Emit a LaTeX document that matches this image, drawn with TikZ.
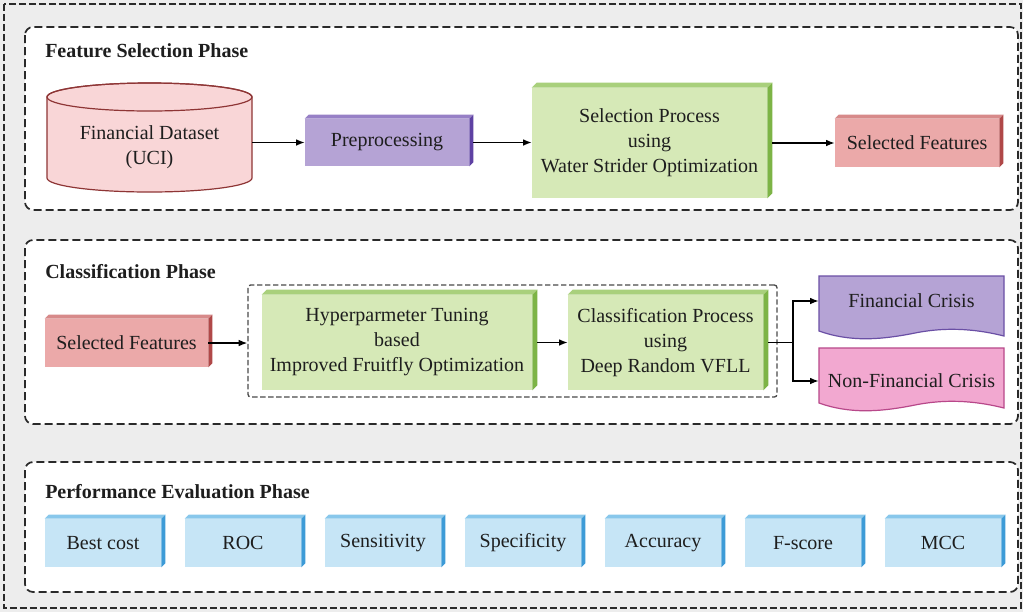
\documentclass[tikz,border=0pt]{standalone}
\usepackage{fontspec}
\setmainfont{Liberation Serif}
\usetikzlibrary{arrows.meta}
\definecolor{bggray}{HTML}{EDEDED}
\definecolor{dashcol}{HTML}{2A2A2A}
\definecolor{txt}{HTML}{1E1E1E}
\definecolor{cylfill}{HTML}{F9D6D7}
\definecolor{cylline}{HTML}{8E3535}
\definecolor{purF}{HTML}{B5A3D5}
\definecolor{purT}{HTML}{9780C6}
\definecolor{purS}{HTML}{5E41A3}
\definecolor{grnF}{HTML}{D6E9B7}
\definecolor{grnT}{HTML}{A9D07C}
\definecolor{grnS}{HTML}{7DB446}
\definecolor{redF}{HTML}{EBA9A9}
\definecolor{redT}{HTML}{D78A8A}
\definecolor{redS}{HTML}{B04848}
\definecolor{bluF}{HTML}{C6E5F6}
\definecolor{bluT}{HTML}{88C7EB}
\definecolor{bluS}{HTML}{3D9BD7}
\definecolor{fcLine}{HTML}{6A4FA5}
\definecolor{nfcF}{HTML}{F2A8D0}
\definecolor{nfcLine}{HTML}{B8488A}
\newcommand\bevel[4]{%
  \fill[#2] (#1.north west) -- ([shift={(#4,-#4)}]#1.north west) -- ([shift={(#4,-#4)}]#1.north east) -- (#1.north east) -- cycle;
  \fill[#3] (#1.north east) -- ([shift={(#4,-#4)}]#1.north east) -- ([shift={(#4,-#4)}]#1.south east) -- (#1.south east) -- cycle;
}
\tikzset{
  lbl/.style={font=\fontsize{15}{18.75}\selectfont, text=txt, align=center, inner sep=0pt},
  ttl/.style={font=\bfseries\fontsize{15}{18.75}\selectfont, text=txt, anchor=base west, inner sep=0pt},
  fbox/.style n args={3}{lbl, fill=#1, minimum width={#2*0.75pt}, minimum height={#3*0.75pt}},
  tbox/.style n args={2}{lbl, minimum width={#1*0.75pt}, minimum height={#2*0.75pt}},
  panel/.style={draw=dashcol, fill=white, line width=1.3pt, dash pattern=on 6pt off 3pt, rounded corners=6pt},
  outer/.style={draw=dashcol, fill=bggray, line width=1.3pt, dash pattern=on 5pt off 2.5pt},
  grpbox/.style={draw=dashcol!85, line width=1pt, dash pattern=on 4pt off 2pt, rounded corners=2pt},
  conn/.style={draw=black, line width=1pt},
  arr/.style={conn, -{Latex[length=6.5pt,width=5pt]}},
}
\begin{document}
\begin{tikzpicture}[x=0.75pt,y=-0.75pt]
\useasboundingbox (0,0) rectangle (1023,612);
\fill[bggray] (0,0) rectangle (1023,612);
\path[outer] (4,4) rectangle (1021,608);
% panels
\path[panel] (25,27) rectangle (1018,210);
\path[panel] (25,240) rectangle (1018,424);
\path[panel] (25,462) rectangle (1018,592);
\node[ttl] (t1) at (45,57) {Feature Selection Phase};
\node[ttl] (t2) at (45,278) {Classification Phase};
\node[ttl] (t3) at (45,498) {Performance Evaluation Phase};

% --- Feature selection phase
\filldraw[fill=cylfill, draw=cylline, line width=0.9pt] (47,97) -- (47,178)
  arc[start angle=180, end angle=360, x radius=76.875pt, y radius=10.5pt] -- (252,97)
  arc[start angle=0, end angle=180, x radius=76.875pt, y radius=10.5pt] -- cycle;
\draw[cylline, line width=0.9pt] (149.5,97) ellipse [x radius=76.875pt, y radius=10.5pt];
\node[tbox={205}{60}] (ds) at (149.5,147.5) {Financial Dataset\\(UCI)};

\node[fbox={purF}{164}{47}] (pre) at (387,142.5) {Preprocessing};
\bevel{pre}{purT}{purS}{4}
\node[fbox={grnF}{235}{110}] (sp1) at (649.5,143) {Selection Process\\using\\Water Strider Optimization};
\bevel{sp1}{grnT}{grnS}{5}
\node[fbox={redF}{164}{48}] (sf1) at (917,143) {Selected Features};
\bevel{sf1}{redT}{redS}{4}

\draw[arr] (ds.east |- pre.west) -- (pre.west);
\draw[arr] ([xshift=3pt]pre.east) -- (pre.east -| sp1.west);
\draw[arr] ([xshift=3.75pt]sp1.east |- sf1.west) -- (sf1.west);

% --- Classification phase
\node[grpbox, minimum width={529*0.75pt}, minimum height={112*0.75pt}] (grp) at (512.5,341) {};
\node[fbox={redF}{163}{48}] (sf2) at (126.5,343) {Selected Features};
\bevel{sf2}{redT}{redS}{4}
\node[fbox={grnF}{270}{95}] (g2a) at (397,342.5) {Hyperparmeter Tuning\\based\\Improved Fruitfly Optimization};
\bevel{g2a}{grnT}{grnS}{5}
\node[fbox={grnF}{195}{95}] (g2b) at (665.5,342.5) {Classification Process\\using\\Deep Random VFLL};
\bevel{g2b}{grnT}{grnS}{5}

\filldraw[fill=purF, draw=fcLine, line width=0.9pt] (819,276) -- (1004,276) -- (1004,336)
  .. controls (980,330) and (950,326) .. (915,333)
  .. controls (880,340) and (850,342) .. (819,331) -- cycle;
\begin{scope}[shift={(0,72)}]
\filldraw[fill=nfcF, draw=nfcLine, line width=0.9pt] (819,276) -- (1004,276) -- (1004,336)
  .. controls (980,330) and (950,326) .. (915,333)
  .. controls (880,340) and (850,342) .. (819,331) -- cycle;
\end{scope}
\node[tbox={185}{50}] (fc) at (911.5,301) {Financial Crisis};
\node[tbox={185}{50}] (nfc) at (911.5,381) {Non-Financial Crisis};

\draw[arr] (sf2.east) -- (sf2.east -| grp.west);
\draw[arr] ([xshift=3.75pt]g2a.east) -- (g2b.west);
\draw[conn] ([xshift=3.75pt]g2b.east) -- (793,342.5) coordinate (br);
\draw[arr] (br) |- (fc.west);
\draw[arr] (br) |- (nfc.west);

% --- Performance evaluation phase
\foreach \lab [count=\i from 0] in {Best cost,ROC,Sensitivity,Specificity,Accuracy,F-score,MCC}{
  \node[fbox={bluF}{116}{48}] (m\i) at ({45+140*\i+58},543) {\lab};
  \bevel{m\i}{bluT}{bluS}{4}
}
\end{tikzpicture}
\end{document}
